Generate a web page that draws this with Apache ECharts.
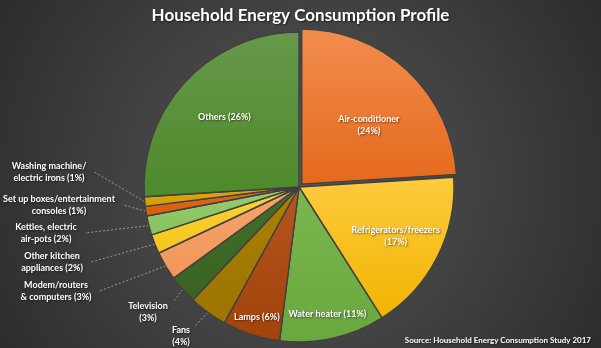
<!DOCTYPE html>
<html>
<head>
<meta charset="utf-8">
<script src="https://cdn.jsdelivr.net/npm/echarts@6/dist/echarts.min.js"></script>
<style>
  html, body { margin: 0; padding: 0; background: #333; }
  #chart { width: 601px; height: 348px; }
</style>
</head>
<body>
<div id="chart"></div>
<script>
// Share of household electricity use by appliance (%), clockwise from 12 o'clock
const categories = [
  'Air-conditioner', 'Refrigerators/freezers', 'Water heater', 'Lamps', 'Fans',
  'Television', 'Modem/routers & computers', 'Other kitchen appliances',
  'Kettles, electric air-pots', 'Set up boxes/entertainment consoles',
  'Washing machine/electric irons', 'Others'
];
const shares = [24, 17, 11, 6, 4, 3, 3, 2, 2, 1, 1, 26];

// Label text printed before the "(x%)" part, with its line breaks
const labelHeads = [
  'Air-conditioner\n', 'Refrigerators/freezers\n', 'Water heater ', 'Lamps ', 'Fans\n',
  'Television\n', 'Modem/routers\n& computers ', 'Other kitchen\nappliances ',
  'Kettles, electric\nair-pots ', 'Set up boxes/entertainment\nconsoles ',
  'Washing machine/\nelectric irons ', 'Others '
];

const titleText = 'Household Energy Consumption Profile';
const sourceText = 'Source: Household Energy Consumption Study 2017';

// ---- styling / layout ----
const FONT = 'Lato, "Open Sans", sans-serif';
const PIE_CENTER = [299, 187];
const PIE_RADIUS = 155;
const PULLED_OUT = 0; // slice drawn pulled away from the centre

const fills = [
  ['#F28D4E', '#E5691C'], // air-conditioner
  ['#FFCB3E', '#F0B400'], // refrigerators
  ['#7BB750', '#69A83E'], // water heater
  ['#B4561C', '#A2420C'], // lamps
  ['#A98104', '#9C7400'], // fans
  ['#426E29', '#3A6322'], // television
  ['#F5A46C', '#F2965A'], // modem
  ['#FCD235', '#F6C61E'], // other kitchen
  ['#96CC6E', '#88C35E'], // kettles
  ['#E0691A', '#D95E0C'], // set up boxes
  ['#DDA812', '#D39D05'], // washing machine
  ['#66984A', '#4E892B']  // others
];

// Labels drawn inside their slice: distance from centre as a fraction of the radius
const insideRatio = { 1: 0.70, 2: 0.84, 3: 0.88, 11: 0.66 };
// Labels drawn outside: centre point of the text block
const outsideAnchor = {
  4: [181, 336],
  5: [148, 312],
  6: [56, 291],
  7: [52, 262],
  8: [46, 233],
  9: [59, 205],
  10: [49, 172]
};

const chart = echarts.init(document.getElementById('chart'), null, { renderer: 'canvas' });

const data = categories.map((name, i) => {
  const inside = outsideAnchor[i] == null;
  const label = { position: inside ? 'inside' : 'outside' };
  // the pulled-out slice keeps its own label: shift it outward with padding
  if (i === PULLED_OUT) label.padding = [0, 0, 10, 24];
  return {
    name: name,
    value: shares[i],
    selected: i === PULLED_OUT,
    itemStyle: {
      color: new echarts.graphic.LinearGradient(0, 0, 0, 1, [
        { offset: 0, color: fills[i][0] },
        { offset: 1, color: fills[i][1] }
      ])
    },
    label: label,
    labelLine: { show: !inside }
  };
});

const textShadow = {
  textShadowColor: 'rgba(0,0,0,0.55)',
  textShadowBlur: 2,
  textShadowOffsetX: 1,
  textShadowOffsetY: 1
};

chart.setOption({
  backgroundColor: {
    type: 'radial', x: 0.5, y: 0.52, r: 1.05,
    colorStops: [
      { offset: 0, color: '#575757' },
      { offset: 1, color: '#2a2a2a' }
    ]
  },
  animation: false,
  title: [
    {
      text: titleText,
      left: 'center',
      top: 2,
      textStyle: Object.assign({
        color: '#ffffff', fontFamily: FONT, fontWeight: 'bold', fontSize: 17
      }, textShadow)
    },
    {
      text: sourceText,
      right: 5,
      top: 331,
      textStyle: Object.assign({
        color: '#ffffff', fontFamily: FONT, fontWeight: 'bold', fontSize: 8
      }, textShadow)
    }
  ],
  series: [{
    type: 'pie',
    center: PIE_CENTER,
    radius: PIE_RADIUS,
    startAngle: 90,
    clockwise: true,
    selectedMode: 'single',
    selectedOffset: 4,
    avoidLabelOverlap: false,
    emphasis: { disabled: true },
    itemStyle: { borderColor: '#404040', borderWidth: 1.4 },
    label: Object.assign({
      show: true,
      color: '#ffffff',
      fontFamily: FONT,
      fontWeight: 'bold',
      fontSize: 9,
      lineHeight: 12,
      align: 'center',
      bleedMargin: 0,
      formatter: p => labelHeads[p.dataIndex] + '(' + p.value + '%)'
    }, textShadow),
    labelLine: {
      length: 0,
      length2: 0,
      lineStyle: { color: '#9a9a9a', width: 1, type: [2, 2] }
    },
    labelLayout: function (p) {
      const i = p.dataIndex;
      const r = p.labelRect;
      if (i === PULLED_OUT) return {};
      if (insideRatio[i] != null) {
        const lx = r.x + r.width / 2 - PIE_CENTER[0];
        const ly = r.y + r.height / 2 - PIE_CENTER[1];
        const len = Math.sqrt(lx * lx + ly * ly) || 1;
        const k = insideRatio[i] * PIE_RADIUS;
        return {
          x: PIE_CENTER[0] + lx / len * k,
          y: PIE_CENTER[1] + ly / len * k,
          align: 'center',
          verticalAlign: 'middle'
        };
      }
      const a = outsideAnchor[i];
      const start = p.labelLinePoints ? p.labelLinePoints[0] : a;
      let end;
      if (i === 4 || i === 5) {
        end = [a[0] + r.width / 2 + 5, a[1] - r.height / 2 + 2];
      } else {
        end = [a[0] + r.width / 2 + 8, a[1]];
      }
      return {
        x: a[0],
        y: a[1],
        align: 'center',
        verticalAlign: 'middle',
        labelLinePoints: [start, end, end]
      };
    },
    data: data
  }]
});
</script>
</body>
</html>
